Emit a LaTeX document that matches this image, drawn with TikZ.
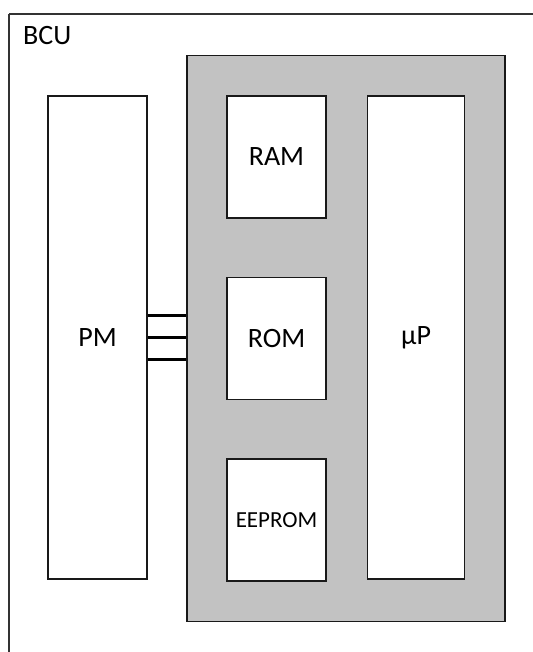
\documentclass[tikz,border=0pt]{standalone}
\usepackage{fontspec}
\setmainfont{Carlito}
\usetikzlibrary{positioning,fit,backgrounds}

\definecolor{mcugray}{RGB}{194,194,194}

\begin{document}
\begin{tikzpicture}[
    x=1pt, y=-1pt,
    node distance=58pt and 40pt,
    frame/.style={draw=black!80, line width=1.3pt},
    box/.style={rectangle, draw=black!90, fill=white, line width=1.6pt, minimum width=99pt, minimum height=122pt, inner sep=0pt, align=center, font=\fontsize{28}{33}\selectfont},
    tallbox/.style={box, minimum height=483pt},
    mcubox/.style={rectangle, draw=black!90, fill=mcugray, line width=1.6pt, inner sep=39.5pt},
    bus/.style={line width=3.3pt, black}
]
    \useasboundingbox (0,0) rectangle (532,652);

    % outer unit, runs off the page at right and bottom
    \coordinate (corner) at (9,14);
    \draw[frame] (corner) -- ++(0,640);
    \draw[frame] (corner) -- ++(525,0);
    \node[anchor=base west, font=\fontsize{28}{33}\selectfont, inner sep=0pt] (bcu) at (23,45) {BCU};

    \node[box] (ram) at (276.5,157) {RAM};
    \node[box, below=of ram] (rom) {ROM};
    \node[box, below=of rom, font=\fontsize{23}{27}\selectfont] (eeprom) {EEPROM};
    \node[tallbox, minimum width=97pt, right=of ram.north east, anchor=north west] (up) {µP};
    \node[tallbox] (pm) at (97.5,337.5) {PM};

    \begin{scope}[on background layer]
        \node[mcubox, fit=(ram)(eeprom)(up)] (mcu) {};
    \end{scope}

    \foreach \dy in {-22,0,22}
        \draw[bus] ([yshift=\dy]pm.east) -- ([yshift=\dy]pm.east -| mcu.west);
\end{tikzpicture}
\end{document}
